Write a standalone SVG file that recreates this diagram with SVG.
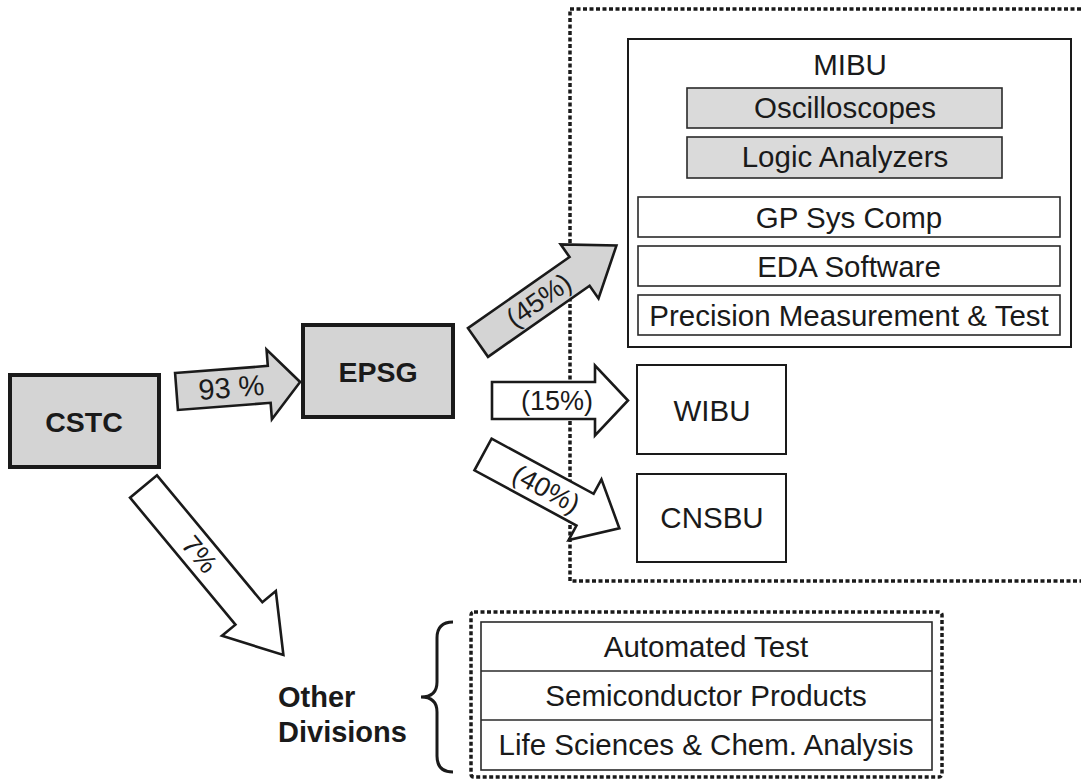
<svg xmlns="http://www.w3.org/2000/svg" width="1081" height="780" viewBox="0 0 1081 780">
  <style>
    .t { font-family: "Liberation Sans", Arial, sans-serif; fill: #1a1a1a; text-anchor: middle; }
    .r { font-size: 29.5px; }
    .p { font-size: 27px; }
    .b { font-weight: bold; }
    .big { stroke: #1a1a1a; stroke-width: 4; fill: #d4d4d4; }
    .box { stroke: #1a1a1a; stroke-width: 2; fill: #ffffff; }
    .sub { stroke: #2a2a2a; stroke-width: 1.6; fill: #ffffff; }
    .subg { stroke: #2a2a2a; stroke-width: 1.6; fill: #dadada; }
    .arrow { stroke: #1a1a1a; stroke-width: 2.6; stroke-linejoin: miter; }
    .gray { fill: #d4d4d4; }
    .white { fill: #ffffff; }
    .dots { fill: none; stroke: #1a1a1a; stroke-width: 3.5; stroke-dasharray: 4 2.5; }
  </style>

  <!-- dotted boundary around the EPSG business units -->
  <g id="epsg-region">
    <path class="dots" d="M1081,9 L570,9 L570,581 L1081,581"/>
  </g>

  <!-- top-level nodes -->
  <g id="cstc">
    <rect class="big" x="10" y="375" width="149" height="92"/>
    <text class="t b" x="84" y="432" font-size="28.5">CSTC</text>
  </g>
  <g id="epsg">
    <rect class="big" x="303" y="325" width="150" height="92"/>
    <text class="t b" x="378" y="382" font-size="28.5">EPSG</text>
  </g>

  <!-- MIBU with its product lines -->
  <g id="mibu">
    <rect class="box" x="628" y="39" width="443" height="308" stroke-width="2.6"/>
    <text class="t r" x="850" y="75">MIBU</text>
    <g id="oscilloscopes">
      <rect class="subg" x="687" y="88" width="315" height="40"/>
      <text class="t r" x="845" y="118">Oscilloscopes</text>
    </g>
    <g id="logic-analyzers">
      <rect class="subg" x="687" y="137" width="315" height="41"/>
      <text class="t r" x="845" y="167">Logic Analyzers</text>
    </g>
    <g id="gp-sys-comp">
      <rect class="sub" x="638" y="197" width="422" height="40"/>
      <text class="t r" x="849" y="228">GP Sys Comp</text>
    </g>
    <g id="eda-software">
      <rect class="sub" x="638" y="246" width="422" height="40"/>
      <text class="t r" x="849" y="277">EDA Software</text>
    </g>
    <g id="precision">
      <rect class="sub" x="638" y="295" width="422" height="40"/>
      <text class="t r" x="849" y="326">Precision Measurement &amp; Test</text>
    </g>
  </g>

  <g id="wibu">
    <rect class="box" x="637" y="365" width="149" height="89"/>
    <text class="t r" x="712" y="421">WIBU</text>
  </g>
  <g id="cnsbu">
    <rect class="box" x="637" y="474" width="149" height="88"/>
    <text class="t r" x="712" y="528">CNSBU</text>
  </g>

  <!-- other divisions -->
  <g id="other-divisions">
    <text class="t b" x="278" y="707" font-size="29" style="text-anchor:start">Other</text>
    <text class="t b" x="278" y="742" font-size="29" style="text-anchor:start">Divisions</text>
    <path d="M453,622 Q437,622 437,638 L437,682 Q437,697 421,697 Q437,697 437,712 L437,756 Q437,772 453,772" fill="none" stroke="#1a1a1a" stroke-width="3"/>
    <rect class="dots" x="471" y="612" width="471" height="165" rx="3"/>
    <rect class="sub" x="481" y="622" width="451" height="148"/>
    <line x1="481" y1="671" x2="932" y2="671" stroke="#2a2a2a" stroke-width="1.6"/>
    <line x1="481" y1="720" x2="932" y2="720" stroke="#2a2a2a" stroke-width="1.6"/>
    <text class="t r" x="706" y="657">Automated Test</text>
    <text class="t r" x="706" y="706">Semiconductor Products</text>
    <text class="t r" x="706" y="755">Life Sciences &amp; Chem. Analysis</text>
  </g>

  <!-- block arrows (tail at local origin, pointing along +x) -->
  <g id="connectors">
    <g transform="translate(176.5,391.5) rotate(-4.4)">
      <polygon class="arrow gray" points="0,-18.5 93,-18.5 93,-35 124,0 93,35 93,18.5 0,18.5"/>
      <text class="t" x="55" y="0" dy="0.35em" font-size="29">93 %</text>
    </g>
    <g transform="translate(478,342.5) rotate(-35)">
      <polygon class="arrow gray" points="0,-17.5 124,-17.5 124,-33 169,0 124,33 124,17.5 0,17.5"/>
      <text class="t p" x="74" y="0" dy="0.35em">(45%)</text>
    </g>
    <g transform="translate(492,400.5)">
      <polygon class="arrow white" points="0,-18.5 103,-18.5 103,-35 136,0 103,35 103,18.5 0,18.5"/>
      <text class="t p" x="65" y="0" dy="0.35em">(15%)</text>
    </g>
    <g transform="translate(483,454.5) rotate(28.4)">
      <polygon class="arrow white" points="0,-18 116,-18 116,-34.5 155,0 116,34.5 116,18 0,18"/>
      <text class="t p" x="72" y="0" dy="0.35em">(40%)</text>
    </g>
    <g transform="translate(143.5,486.5) rotate(50.3)">
      <polygon class="arrow white" points="0,-17.5 165,-17.5 165,-35 219,0 165,35 165,17.5 0,17.5"/>
      <text class="t p" x="88" y="0" dy="0.35em">7%</text>
    </g>
  </g>
</svg>
